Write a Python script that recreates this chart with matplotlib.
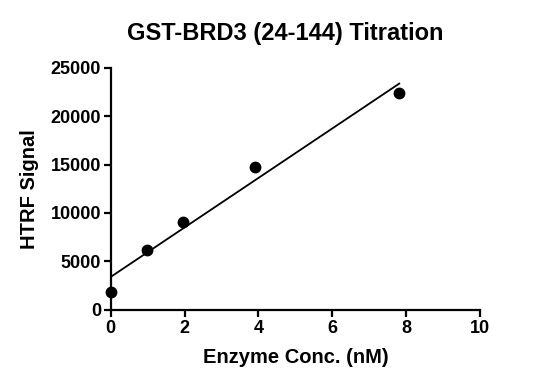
import matplotlib
matplotlib.use("Agg")
import matplotlib.pyplot as plt
import numpy as np

plt.rcParams['font.family'] = ['Liberation Sans', 'DejaVu Sans']
plt.rcParams['font.weight'] = 'bold'

# enzyme titration data
conc_nM = [0.0, 0.977, 1.953, 3.906, 7.8125]
htrf_signal = [1890, 6190, 9110, 14790, 22420]
x_ticks = [0, 2, 4, 6, 8, 10]
y_ticks = [0, 5000, 10000, 15000, 20000, 25000]

fig = plt.figure(figsize=(5.37, 3.86), dpi=100)
ax = fig.add_axes([0.206, 0.197, 0.688, 0.628])

# linear fit across the measured range
slope, intercept = np.polyfit(conc_nM, htrf_signal, 1)
fit_x = np.array([min(conc_nM), max(conc_nM)])
ax.plot(fit_x, slope * fit_x + intercept, color='black', lw=1.3, zorder=2)
ax.plot(conc_nM, htrf_signal, 'o', color='black', ms=7.5, zorder=3, clip_on=False)

ax.set_xlim(0, 10)
ax.set_ylim(0, 25000)
ax.set_xticks(x_ticks)
ax.set_yticks(y_ticks)

for side in ['top', 'right']:
    ax.spines[side].set_visible(False)
for side in ['left', 'bottom']:
    ax.spines[side].set_linewidth(1.6)
ax.tick_params(width=1.6, length=5, labelsize=13, pad=2)
for lbl in ax.get_xticklabels() + ax.get_yticklabels():
    lbl.set_fontweight('bold')

ax.set_title('GST-BRD3 (24-144) Titration', fontsize=17, fontweight='bold', pad=20, x=0.473)
ax.set_xlabel('Enzyme Conc. (nM)', fontsize=14.5, fontweight='bold', labelpad=8)
ax.set_ylabel('HTRF Signal', fontsize=14.5, fontweight='bold', labelpad=8)

plt.savefig('out.png', dpi=100)
